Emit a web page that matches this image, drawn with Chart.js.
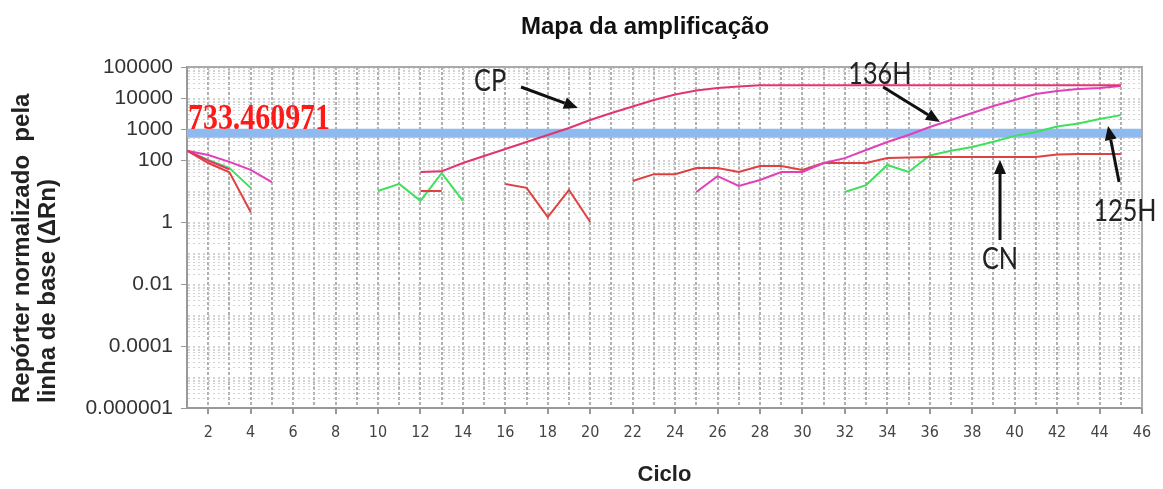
<!DOCTYPE html>
<html><head><meta charset="utf-8">
<script src="https://cdn.jsdelivr.net/npm/chart.js@4.4.0/dist/chart.umd.min.js"></script>
<style>html,body{margin:0;padding:0;background:#fff}#wrap{width:1163px;height:489px;position:relative}</style>
</head><body><div id="wrap"><canvas id="c" width="1163" height="489"></canvas></div>
<script>
// ---- data ----
const cycles = [1,2,3,4,5,6,7,8,9,10,11,12,13,14,15,16,17,18,19,20,21,22,23,24,25,26,27,28,29,30,31,32,33,34,35,36,37,38,39,40,41,42,43,44,45];
const seriesCP = [200,95,50,null,null,null,null,null,null,null,null,41,43,80,135,226,380,640,1075,1950,3280,5300,8600,13000,17500,21000,23500,26000,26000,26000,26000,26000,26000,26000,26000,26000,26000,26000,26000,26000,26000,26000,26000,26000,26000];
const series136H = [200,145,87,48,19.5,null,null,null,null,null,null,null,null,null,null,null,null,null,null,null,null,null,null,null,9.3,30,14.5,22.6,41,41,80,115,210,380,640,1160,1950,3280,5520,8600,13500,16800,19500,21000,24400];
const seriesCN = [200,80,40,2.1,null,null,null,null,null,null,null,10,10,null,null,16.8,12.6,1.45,10.8,1.0,null,21,35,35,55,55,41,64,64,48,80,80,80,115,120,125,125,125,125,125,125,150,155,155,155];
const series125H = [200,100,55,12.6,null,null,null,null,null,10,17,4.8,38,4.8,null,null,null,null,null,null,null,null,null,null,null,null,null,null,null,null,null,9.3,15.5,69,41,140,200,263,390,600,800,1200,1500,2100,2800];
const threshold = 733.460971;
const thresholdLabel = '733.460971';
const yTickValues = [100000,10000,1000,100,1,0.01,0.0001,0.000001];
const yTickLabels = ['100000','10000','1000','100','1','0.01','0.0001','0.000001'];
const xTickLabels = ['2','4','6','8','10','12','14','16','18','20','22','24','26','28','30','32','34','36','38','40','42','44','46'];
const chartTitle = 'Mapa da amplificação';
const xTitle = 'Ciclo';
const yTitle = ['Repórter normalizado  pela', 'linha de base (ΔRn)'];
// annotations in data coordinates: text centre, arrow start, arrow tip
const annotations = [
  {text:'CP',   tx:15.28, ty:35300, ax0:16.74, ay0:22600, ax1:19.42, ay1:4750},
  {text:'136H', tx:33.65, ty:59400, ax0:33.80, ay0:22600, ax1:36.48, ay1:1680},
  {text:'CN',   tx:39.31, ty:0.064, ax0:39.31, ay0:0.263, ax1:39.31, ay1:100},
  {text:'125H', tx:45.20, ty:2.26,  ax0:44.92, ay0:19.5,  ax1:44.40, ay1:1250}
];

const FONT = "'Liberation Sans', Arial, sans-serif";
const NARROW = "'Liberation Sans Narrow', 'Arial Narrow', 'DejaVu Sans Condensed', sans-serif";

function yLabelFor(v){
  const i = yTickValues.findIndex(t => Math.abs(Math.log10(t) - Math.log10(v)) < 1e-6);
  return i >= 0 ? yTickLabels[i] : '';
}
function xLabelFor(v){
  const i = xTickLabels.indexOf(String(v));
  return i >= 0 ? xTickLabels[i] : '';
}

const extras = {
  id: 'extras',
  afterDraw(chart){
    const {ctx, chartArea: a, scales: {x, y}} = chart;
    ctx.save();
    // frame top/right
    ctx.strokeStyle = '#aaaaaa'; ctx.lineWidth = 2;
    ctx.beginPath(); ctx.moveTo(a.left, a.top); ctx.lineTo(a.right, a.top); ctx.lineTo(a.right, a.bottom); ctx.stroke();
    // title
    ctx.fillStyle = '#111'; ctx.font = 'bold 24px ' + FONT; ctx.textAlign = 'center'; ctx.textBaseline = 'middle';
    ctx.fillText(chartTitle, 645, 27);
    // y axis title (two rotated lines, starting near the bottom)
    ctx.save();
    ctx.font = 'bold 24px ' + FONT; ctx.fillStyle = '#222'; ctx.textAlign = 'left'; ctx.textBaseline = 'middle';
    ctx.translate(22, a.bottom - 5); ctx.rotate(-Math.PI / 2);
    ctx.fillText(yTitle[0], 0, 0);
    ctx.fillText(yTitle[1], 0, 26);
    ctx.restore();
    // threshold label
    const py = y.getPixelForValue(threshold);
    ctx.save();
    ctx.font = 'bold 36px "Liberation Serif", "Times New Roman", serif';
    const w = ctx.measureText(thresholdLabel).width;
    ctx.translate(a.left + 1, py - 4);
    ctx.scale(142 / w, 1);
    ctx.fillStyle = '#ff1a1a'; ctx.textAlign = 'left'; ctx.textBaseline = 'alphabetic';
    ctx.fillText(thresholdLabel, 0, 0);
    ctx.restore();
    // annotations
    ctx.strokeStyle = '#111'; ctx.lineWidth = 3;
    annotations.forEach(an => {
      ctx.save();
      ctx.font = '30px Lato, "Open Sans", sans-serif'; ctx.fillStyle = '#222'; ctx.textAlign = 'center'; ctx.textBaseline = 'middle';
      ctx.translate(x.getPixelForValue(an.tx), y.getPixelForValue(an.ty));
      ctx.scale(0.84, 1);
      ctx.fillText(an.text, 0, 0);
      ctx.restore();
      const x0 = x.getPixelForValue(an.ax0), y0 = y.getPixelForValue(an.ay0);
      const x1 = x.getPixelForValue(an.ax1), y1 = y.getPixelForValue(an.ay1);
      const ang = Math.atan2(y1 - y0, x1 - x0);
      const L = 14, H = 6;
      const bx = x1 - L * Math.cos(ang), by = y1 - L * Math.sin(ang);
      ctx.beginPath(); ctx.moveTo(x0, y0); ctx.lineTo(bx, by); ctx.stroke();
      ctx.beginPath();
      ctx.moveTo(x1, y1);
      ctx.lineTo(bx + H * Math.sin(ang), by - H * Math.cos(ang));
      ctx.lineTo(bx - H * Math.sin(ang), by + H * Math.cos(ang));
      ctx.closePath(); ctx.fillStyle = '#111'; ctx.fill();
    });
    ctx.restore();
  }
};

const mk = (label, data, color) => ({label, data, borderColor: color, backgroundColor: color, borderWidth: 2, pointRadius: 0, tension: 0, spanGaps: false, order: 1});

new Chart(document.getElementById('c'), {
  type: 'line',
  data: {
    labels: cycles,
    datasets: [
      mk('CP', seriesCP, '#e2346e'),
      mk('136H', series136H, '#e040b8'),
      mk('CN', seriesCN, '#e04040'),
      mk('125H', series125H, '#3ee05c'),
      {label: 'Threshold', data: [{x: 1, y: threshold}, {x: 46, y: threshold}], borderColor: '#8fbaf0', borderWidth: 9, pointRadius: 0, order: 10}
    ]
  },
  options: {
    responsive: false, animation: false, devicePixelRatio: 1,
    layout: {padding: {left: 8, right: 21, top: 67, bottom: 0}},
    plugins: {legend: {display: false}, title: {display: false}, tooltip: {enabled: false}},
    scales: {
      x: {
        type: 'linear', min: 1, max: 46,
        afterBuildTicks: s => { const t = []; for (let v = 1; v <= 46; v++) t.push({value: v}); s.ticks = t; },
        afterFit: s => { s.height = 81; },
        ticks: {autoSkip: false, maxRotation: 0, padding: 9, color: '#444', font: {family: NARROW, size: 16}, callback: v => xLabelFor(v)},
        grid: {color: 'rgba(150,150,150,0.75)', lineWidth: 2, tickLength: 6, tickColor: c => (xLabelFor(c.tick && c.tick.value) ? '#999' : 'rgba(0,0,0,0)')},
        border: {display: true, color: '#999', width: 2, dash: [3, 2]},
        title: {display: true, text: xTitle, color: '#222', font: {family: FONT, size: 22, weight: 'bold', lineHeight: 1.2}, padding: {top: 0, bottom: 1}}
      },
      y: {
        type: 'logarithmic', min: 0.000001, max: 100000,
        afterBuildTicks: s => {
          const t = [];
          for (let e = -6; e <= 4; e++) for (let k = 1; k <= 9; k++) t.push({value: Number((k * Math.pow(10, e)).toPrecision(3))});
          t.push({value: 100000});
          s.ticks = t;
        },
        afterFit: s => { s.width = 179; },
        ticks: {autoSkip: false, padding: 8, color: '#333', font: {family: FONT, size: 21}, callback: v => yLabelFor(v)},
        grid: {color: 'rgba(200,200,200,0.8)', lineWidth: 1, tickLength: 6, tickColor: c => (yLabelFor(c.tick && c.tick.value) ? '#999' : 'rgba(0,0,0,0)')},
        border: {display: true, color: '#999', width: 2, dash: [2, 3]},
        title: {display: false}
      }
    }
  },
  plugins: [extras]
});
</script></body></html>
